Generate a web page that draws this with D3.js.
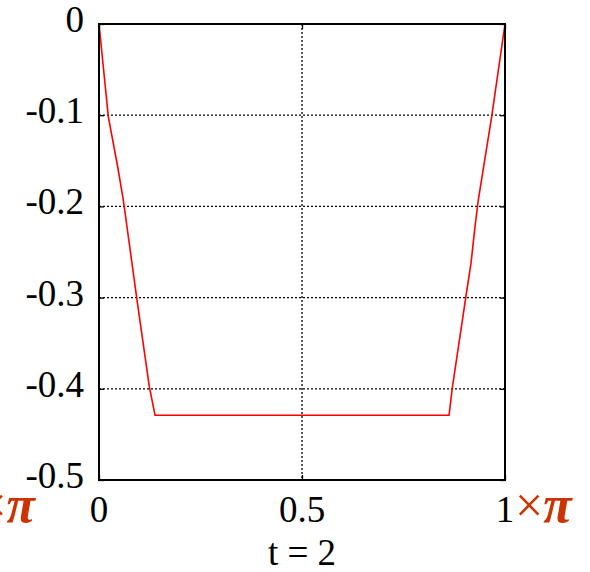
<!DOCTYPE html>
<html>
<head>
<meta charset="utf-8">
<script src="https://cdn.jsdelivr.net/npm/d3@7"></script>
</head>
<body style="margin:0">
<script>
    // curve: t (in units of pi) against value
    var tValues = [0, 0.0229, 0.046, 0.0599, 0.0929, 0.1239, 0.138,
                   0.8621, 0.8702, 0.9032, 0.9163, 0.9269, 0.9342, 0.9672, 1];
    var yValues = [0, -0.1016, -0.1565, -0.193, -0.3004, -0.3977, -0.429,
                   -0.429, -0.3991, -0.3004, -0.2621, -0.2193, -0.193, -0.1016, 0];

    var yTicks = [0, -0.1, -0.2, -0.3, -0.4, -0.5];
    var yTickLabels = ["0", "-0.1", "-0.2", "-0.3", "-0.4", "-0.5"];
    var xTicks = [0, 0.5, 1];
    var xTickLabels = ["0", "0.5", "1"];
    var yGrid = [-0.1, -0.2, -0.3, -0.4];
    var xGrid = [0.5];
    var xTitle = "t = 2";

    var unitColor = "#cc3300";

    var margin = {top: 24, right: 85, bottom: 92, left: 99}
      , W = 590, H = 572
      , w = W - margin.left - margin.right
      , h = H - margin.top - margin.bottom;

    var xScale = d3.scaleLinear().domain([0, 1]).range([0, w]);
    var yScale = d3.scaleLinear().domain([-0.5, 0]).range([h, 0]);

    var svg = d3.select("body")
      .append("svg")
      .attr("width", W)
      .attr("height", H)
      .attr("font-family", "Liberation Serif");

    // tick labels and title
    svg.selectAll(".ylab")
      .data(yTicks)
      .enter()
      .append("text")
      .style("font-family", "'Liberation Serif'")
      .style("font-size", "37px")
      .attr("text-anchor", "end")
      .attr("x", margin.left - 15)
      .attr("y", function(d) { return margin.top + yScale(d) + 8; })
      .text(function(d, i) { return yTickLabels[i]; });

    svg.selectAll(".xlab")
      .data(xTicks)
      .enter()
      .append("text")
      .style("font-family", "'Liberation Serif'")
      .style("font-size", "37px")
      .attr("text-anchor", "middle")
      .attr("x", function(d) { return margin.left + xScale(d); })
      .attr("y", margin.top + h + 42)
      .text(function(d, i) { return xTickLabels[i]; });

    svg.append("text")
      .style("font-family", "'Liberation Serif'")
      .style("font-size", "37px")
      .attr("text-anchor", "middle")
      .attr("x", margin.left + xScale(0.5))
      .attr("y", margin.top + h + 85)
      .text(xTitle);

    // "×π" after the 1 on the right, and a cut-off one at the far left
    function addUnit(sel) {
      sel.append("tspan")
        .style("font-size", "50px").text("×");
      sel.append("tspan")
        .style("font-size", "52px")
        .style("font-style", "italic").style("font-weight", "bold").text("π");
    }
    var unitRight = svg.append("text")
      .style("font-family", "'Liberation Serif'")
      .attr("fill", unitColor)
      .attr("x", margin.left + xScale(1) + 10)
      .attr("y", margin.top + h + 42);
    addUnit(unitRight);

    var unitLeft = svg.append("text")
      .style("font-family", "'Liberation Serif'")
      .attr("fill", unitColor)
      .attr("text-anchor", "end")
      .attr("x", 35)
      .attr("y", margin.top + h + 42);
    addUnit(unitLeft);

    var g = svg.append("g")
      .attr("transform", "translate(" + margin.left + "," + margin.top + ")");

    // dotted grid
    g.selectAll(".hg")
      .data(yGrid)
      .enter()
      .append("line")
      .attr("stroke", "#000").attr("stroke-width", 1.3).attr("stroke-dasharray", "2 2")
      .attr("x1", 0).attr("x2", w)
      .attr("y1", function(d) { return yScale(d); })
      .attr("y2", function(d) { return yScale(d); });
    g.selectAll(".vg")
      .data(xGrid)
      .enter()
      .append("line")
      .attr("stroke", "#000").attr("stroke-width", 1.3).attr("stroke-dasharray", "2 2")
      .attr("y1", 0).attr("y2", h)
      .attr("x1", function(d) { return xScale(d); })
      .attr("x2", function(d) { return xScale(d); });

    // inward ticks on all four sides
    var tickLen = 5;
    g.append("g").call(d3.axisLeft(yScale).tickValues(yTicks).tickSize(-tickLen).tickFormat(""));
    g.append("g").attr("transform", "translate(" + w + ",0)")
      .call(d3.axisRight(yScale).tickValues(yTicks).tickSize(-tickLen).tickFormat(""));
    g.append("g").attr("transform", "translate(0," + h + ")")
      .call(d3.axisBottom(xScale).tickValues(xTicks).tickSize(-tickLen).tickFormat(""));
    g.append("g")
      .call(d3.axisTop(xScale).tickValues(xTicks).tickSize(-tickLen).tickFormat(""));
    g.selectAll(".domain").remove();
    g.selectAll(".tick text").remove();
    g.selectAll(".tick line").attr("stroke", "#000").attr("stroke-width", 1.3);

    // curve
    var pts = tValues.map(function(t, i) { return [t, yValues[i]]; });
    var line = d3.line()
      .x(function(d) { return xScale(d[0]); })
      .y(function(d) { return yScale(d[1]); });
    g.append("path")
      .datum(pts)
      .attr("d", line)
      .attr("fill", "none")
      .attr("stroke", "#ff0000")
      .attr("stroke-width", 1.6);

    // frame
    g.append("rect")
      .attr("x", 0).attr("y", 0)
      .attr("width", w).attr("height", h)
      .attr("fill", "none")
      .attr("stroke", "#000")
      .attr("stroke-width", 2);
</script>
</body>
</html>
